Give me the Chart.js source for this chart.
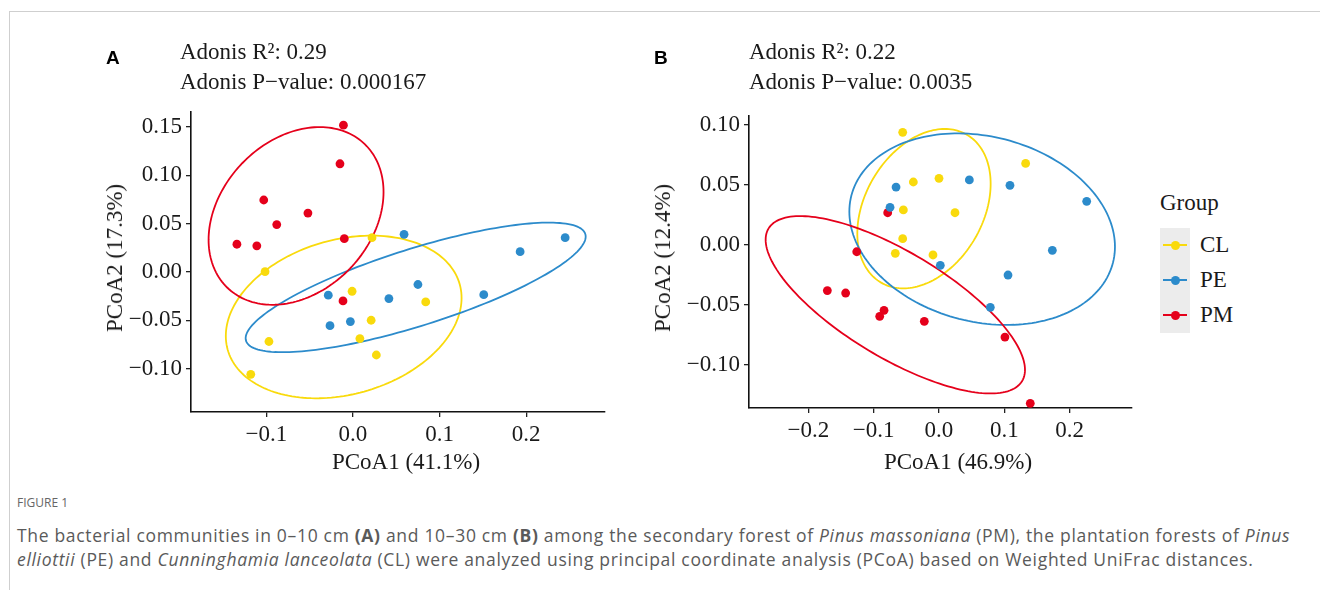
<!DOCTYPE html>
<html>
<head>
<meta charset="utf-8">
<script src="https://cdn.jsdelivr.net/npm/chart.js@4.4.1/dist/chart.umd.min.js"></script>
<style>
  body { margin: 0; background: #fff; }
  #page { position: relative; width: 1320px; height: 590px; overflow: hidden; font-family: "Liberation Serif", serif; color: #1a1a1a; }
  #frame { position: absolute; left: 9px; top: 11px; width: 1320px; height: 600px; border-top: 1px solid #cfcfcf; border-left: 1px solid #cfcfcf; }
  canvas { position: absolute; top: 0; }
  .txt { position: absolute; white-space: nowrap; }
  .serif { font-family: "Liberation Serif", serif; font-size: 23px; line-height: 28px; }
  .letter { font-family: "Liberation Sans", Arial, sans-serif; font-weight: bold; font-size: 19px; line-height: 22px; color: #000; }
  .ytitle { transform: translate(-50%, -50%) rotate(-90deg); }
  .xtitle { transform: translateX(-50%); }
  #legendBox { position: absolute; left: 1160px; top: 228px; width: 30px; height: 105px; background: #ececec; }
  .key { position: absolute; left: 3px; width: 24px; height: 2px; }
  .key i { position: absolute; left: 7.5px; top: -3.5px; width: 9px; height: 9px; border-radius: 50%; background: inherit; }
  #figlabel { left: 17px; top: 495px; font-family: "Open Sans", sans-serif; font-size: 12px; line-height: 16px; color: #666; }
  #caption { left: 17px; top: 523px; font-family: "Open Sans", sans-serif; font-size: 17.5px; letter-spacing: 0.68px; line-height: 24px; color: #5a5a5a; }
</style>
</head>
<body>
<div id="page">
  <div id="frame"></div>
  <canvas id="chartA" width="640" height="480" style="left:0;width:640px;height:480px"></canvas>
  <canvas id="chartB" width="520" height="480" style="left:640px;width:520px;height:480px"></canvas>

  <div class="txt letter" style="left:106px;top:47px">A</div>
  <div class="txt serif" style="left:180px;top:38px">Adonis R²: 0.29</div>
  <div class="txt serif" style="left:180px;top:68px">Adonis P−value: 0.000167</div>
  <div class="txt serif ytitle" style="left:115px;top:258px">PCoA2 (17.3%)</div>
  <div class="txt serif xtitle" style="left:406px;top:448px">PCoA1 (41.1%)</div>

  <div class="txt letter" style="left:654px;top:47px">B</div>
  <div class="txt serif" style="left:749px;top:38px">Adonis R²: 0.22</div>
  <div class="txt serif" style="left:749px;top:68px">Adonis P−value: 0.0035</div>
  <div class="txt serif ytitle" style="left:663px;top:258px">PCoA2 (12.4%)</div>
  <div class="txt serif xtitle" style="left:958px;top:448px">PCoA1 (46.9%)</div>

  <div class="txt serif" style="left:1160px;top:189px">Group</div>
  <div id="legendBox">
    <div class="key" style="top:16px;background:#F9DA0C"><i></i></div>
    <div class="key" style="top:51px;background:#2C8BCB"><i></i></div>
    <div class="key" style="top:86px;background:#E5001B"><i></i></div>
  </div>
  <div class="txt serif" style="left:1200px;top:231px">CL</div>
  <div class="txt serif" style="left:1200px;top:266px">PE</div>
  <div class="txt serif" style="left:1200px;top:301px">PM</div>

  <div class="txt" id="figlabel">FIGURE 1</div>
  <div class="txt" id="caption">The bacterial communities in 0–10 cm <b>(A)</b> and 10–30 cm <b>(B)</b> among the secondary forest of <i>Pinus massoniana</i> (PM), the plantation forests of <i>Pinus</i><br><i>elliottii</i> (PE) and <i>Cunninghamia lanceolata</i> (CL) were analyzed using principal coordinate analysis (PCoA) based on Weighted UniFrac distances.</div>
</div>

<script>
// groups and colours
const groups = ['CL', 'PE', 'PM'];
const groupColors = ['#F9DA0C', '#2C8BCB', '#E5001B'];

// panel A (0-10 cm): PCoA1, PCoA2 per sample
const aCL = [[-0.1015, 0.0003], [0.022, 0.0355], [-0.001, -0.020], [0.084, -0.031], [0.021, -0.050], [0.008, -0.069], [-0.097, -0.072], [0.027, -0.086], [-0.118, -0.106]];
const aPE = [[0.059, 0.039], [0.245, 0.0355], [0.193, 0.021], [0.075, -0.013], [0.151, -0.0235], [-0.0285, -0.024], [0.0415, -0.0276], [-0.0265, -0.0556], [-0.003, -0.0514]];
const aPM = [[-0.011, 0.152], [-0.015, 0.112], [-0.103, 0.0745], [-0.052, 0.061], [-0.088, 0.049], [-0.134, 0.0287], [-0.111, 0.027], [-0.010, 0.0345], [-0.0115, -0.030]];

// panel B (10-30 cm)
const bCL = [[-0.0556, 0.0939], [0.1327, 0.068], [-0.0393, 0.0525], [0.000, 0.0556], [-0.0546, 0.0292], [0.0245, 0.0269], [-0.0556, 0.0053], [-0.0669, -0.0069], [-0.0092, -0.0083]];
const bPE = [[-0.0658, 0.0483], [-0.075, 0.0314], [0.0465, 0.0542], [0.1087, 0.0497], [0.2262, 0.0364], [0.1736, -0.0044], [0.002, -0.0169], [0.1057, -0.025], [0.0786, -0.0519]];
const bPM = [[-0.0786, 0.0269], [-0.126, -0.0056], [-0.171, -0.038], [-0.143, -0.040], [-0.0842, -0.0544], [-0.0908, -0.0594], [-0.0225, -0.0636], [0.101, -0.0767], [0.1398, -0.1319]];

// 95% ellipses: centre x, centre y, half width, half height, y offset of rightmost point
const aEllipses = [[-0.0107, -0.0466, 0.1361, 0.0842, 0.0197], [0.0724, -0.016, 0.1963, 0.0671, 0.0526], [-0.0657, 0.058, 0.101, 0.092, 0.0248]];
const bEllipses = [[-0.023, 0.0303, 0.1021, 0.0664, 0.0207], [0.0661, 0.0132, 0.2034, 0.0798, -0.0146], [-0.0669, -0.0498, 0.1986, 0.0739, -0.0542]];

// axes
const aXRange = [-0.187, 0.291], aYRange = [-0.145, 0.1656];
const bXRange = [-0.291, 0.2956], bYRange = [-0.1358, 0.1075];
const aXTicks = [-0.1, 0, 0.1, 0.2], aXLabels = ['−0.1', '0.0', '0.1', '0.2'];
const aYTicks = [-0.1, -0.05, 0, 0.05, 0.1, 0.15], aYLabels = ['−0.10', '−0.05', '0.00', '0.05', '0.10', '0.15'];
const bXTicks = [-0.2, -0.1, 0, 0.1, 0.2], bXLabels = ['−0.2', '−0.1', '0.0', '0.1', '0.2'];
const bYTicks = [-0.1, -0.05, 0, 0.05, 0.1], bYLabels = ['−0.10', '−0.05', '0.00', '0.05', '0.10'];

function drawEllipses(chart, ellipses) {
    const ctx = chart.ctx;
    const xs = chart.scales.x, ys = chart.scales.y;
    ctx.save();
    ctx.lineWidth = 1.8;
    ellipses.forEach((e, i) => {
        const [cx, cy, w, h, dy] = e;
        const b = Math.sqrt(Math.max(h * h - dy * dy, 0));
        ctx.strokeStyle = groupColors[i];
        ctx.beginPath();
        for (let k = 0; k <= 180; k++) {
            const t = k / 180 * Math.PI * 2;
            const px = xs.getPixelForValue(cx + w * Math.cos(t));
            const py = ys.getPixelForValue(cy + dy * Math.cos(t) + b * Math.sin(t));
            if (k === 0) ctx.moveTo(px, py); else ctx.lineTo(px, py);
        }
        ctx.closePath();
        ctx.stroke();
    });
    ctx.restore();
}

function makeAxis(range, ticks, labels, fitSize, horizontal) {
    return {
        type: 'linear',
        min: range[0],
        max: range[1],
        afterBuildTicks: (scale) => { scale.ticks = ticks.map(v => ({ value: v })); },
        afterFit: (scale) => { if (horizontal) scale.height = fitSize; else scale.width = fitSize; },
        ticks: {
            callback: (value, index) => labels[index],
            font: { family: 'Liberation Serif', size: 23 },
            color: '#1a1a1a',
            padding: 4,
            maxRotation: 0,
            autoSkip: false
        },
        grid: { display: true, drawOnChartArea: false, drawTicks: true, tickLength: 5, color: '#222', lineWidth: 1.3 },
        border: { display: true, color: '#111', width: 1.6 }
    };
}

function makeChart(id, sets, ellipses, xr, yr, xt, xl, yt, yl, area) {
    const canvas = document.getElementById(id);
    return new Chart(canvas.getContext('2d'), {
        type: 'scatter',
        data: {
            datasets: sets.map((pts, i) => ({
                label: groups[i],
                data: pts.map(p => ({ x: p[0], y: p[1] })),
                backgroundColor: groupColors[i],
                borderWidth: 0,
                pointRadius: 4.4,
                pointHoverRadius: 4.4
            }))
        },
        options: {
            responsive: false,
            animation: false,
            layout: { padding: { left: 0, top: area.top, right: canvas.width - area.right, bottom: 0 } },
            plugins: { legend: { display: false }, tooltip: { enabled: false } },
            scales: {
                x: makeAxis(xr, xt, xl, canvas.height - area.bottom, true),
                y: makeAxis(yr, yt, yl, area.left, false)
            }
        },
        plugins: [{ id: 'groupEllipses', beforeDatasetsDraw: (chart) => drawEllipses(chart, ellipses) }]
    });
}

makeChart('chartA', [aCL, aPE, aPM], aEllipses, aXRange, aYRange, aXTicks, aXLabels, aYTicks, aYLabels,
    { left: 191, right: 605, top: 112, bottom: 412 });
makeChart('chartB', [bCL, bPE, bPM], bEllipses, bXRange, bYRange, bXTicks, bXLabels, bYTicks, bYLabels,
    { left: 109, right: 492, top: 116, bottom: 408 });
</script>
</body>
</html>
